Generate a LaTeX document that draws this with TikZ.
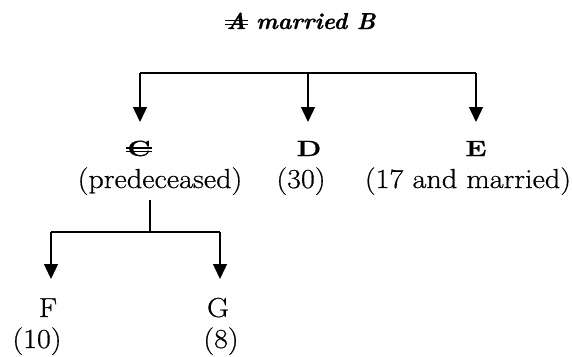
\documentclass[tikz,border=0pt]{standalone}
\usepackage{fontspec}
\setmainfont{Latin Modern Roman}[FakeStretch=1.1,FakeBold=0.6]
\newfontfamily\titlefont{Latin Modern Roman}[FakeBold=0.8]
\newfontfamily\hdfont{Latin Modern Roman}[FakeStretch=1.3,FakeBold=0.6]
\usetikzlibrary{arrows.meta}
\newlength\dsw
\newcommand\dstrk[1]{\settowidth\dsw{#1}\makebox[0pt][l]{\hspace*{-0.08em}\rule[0.17em]{\dimexpr\dsw+0.16em\relax}{0.06em}}\makebox[0pt][l]{\hspace*{-0.08em}\rule[0.33em]{\dimexpr\dsw+0.16em\relax}{0.06em}}#1}
\tikzset{
  lbl/.style={anchor=base,inner sep=0pt,font=\fontsize{27.5}{30}\selectfont},
  hd/.style={anchor=base,inner sep=0pt,font=\fontsize{22}{25}\hdfont\bfseries},
  ln/.style={line width=1.4pt},
  arr/.style={line width=1.4pt,-{Triangle[width=14pt,length=15pt]}}
}
\begin{document}
\begin{tikzpicture}[x=1pt,y=-1pt]
\useasboundingbox (0,0) rectangle (572,356);
\node[anchor=base,inner sep=0pt,font=\fontsize{23}{26}\titlefont\bfseries\itshape] (title) at (301,29) {\dstrk{A} married B};
% top level
\coordinate (tl) at (140,73);
\coordinate (tm) at (308,73);
\coordinate (tr) at (476,73);
\coordinate (ca) at (140,122);
\coordinate (da) at (308,122);
\coordinate (ea) at (476,122);
\draw[ln] (tl) -- (tr);
\draw[arr] (tl) -- (ca);
\draw[arr] (tm) -- (da);
\draw[arr] (tr) -- (ea);
\node[hd] (C) at (139,156) {\dstrk{C}};
\node[hd] (D) at (309,156) {D};
\node[hd] (E) at (476,156) {E};
\node[lbl] (Cs) at (160,188) {(predeceased)};
\node[lbl] (Ds) at (301,188) {(30)};
\node[lbl] (Es) at (468,188) {(17 and married)};
% lower level
\coordinate (cv) at (150,200);
\coordinate (cm) at (150,232);
\coordinate (bl) at (51,232);
\coordinate (br) at (220,232);
\coordinate (fa) at (51,279);
\coordinate (ga) at (220,279);
\draw[ln] (cv) -- (cm);
\draw[ln] (bl) -- (br);
\draw[arr] (bl) -- (fa);
\draw[arr] (br) -- (ga);
\node[lbl] (F) at (48,317) {F};
\node[lbl] (G) at (218,317) {G};
\node[lbl] (Fs) at (37,348) {(10)};
\node[lbl] (Gs) at (221,348) {(8)};
\end{tikzpicture}
\end{document}
